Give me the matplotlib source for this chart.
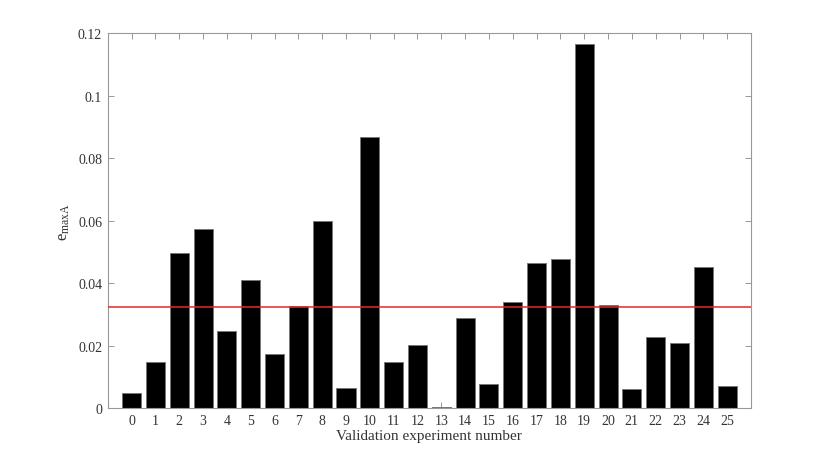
import matplotlib
matplotlib.use("Agg")
import matplotlib.pyplot as plt
import numpy as np

plt.rcParams['font.family'] = ['Liberation Serif', 'DejaVu Serif']
plt.rcParams['mathtext.fontset'] = 'custom'
plt.rcParams['mathtext.rm'] = 'Liberation Serif'
plt.rcParams['mathtext.it'] = 'Liberation Serif'

experiments = list(range(26))
errors = [0.0047, 0.0146, 0.0495, 0.0572, 0.0247, 0.0410, 0.0174, 0.0326,
          0.0598, 0.0063, 0.0867, 0.0147, 0.0201, 0.0003, 0.0287, 0.0077,
          0.0339, 0.0464, 0.0478, 0.1166, 0.0330, 0.0062, 0.0227, 0.0208,
          0.0451, 0.0071]
threshold = 0.03235
yticks = [0, 0.02, 0.04, 0.06, 0.08, 0.1, 0.12]
ytick_labels = ['0', '0.02', '0.04', '0.06', '0.08', '0.1', '0.12']

fig = plt.figure(figsize=(8.3, 4.6), dpi=100)
ax = fig.add_axes([0.1298, 0.1109, 0.9048 - 0.1298, 0.9254 - 0.1109])

ax.bar(experiments, errors, width=0.8, color='black', edgecolor='#777777',
       linewidth=0.7, zorder=2)
ax.axhline(threshold, color='#e8262b', linewidth=1.1, zorder=3)

ax.set_xlim(-1, 26)
ax.set_ylim(0, 0.12)
ax.set_xticks(experiments)
ax.set_xticklabels([str(e) for e in experiments])
ax.set_yticks(yticks)
ax.set_yticklabels(ytick_labels)
ax.set_axisbelow(True)

ax.tick_params(direction='in', top=True, right=True, length=4.5, width=0.7,
               color='#999999', labelsize=10, labelcolor='#333333', pad=4)
for s in ax.spines.values():
    s.set_color('#999999')
    s.set_linewidth(0.8)

ax.set_xlabel('Validation experiment number', fontsize=11, color='#333333', labelpad=2)
ax.set_ylabel(r'$\mathregular{e_{maxA}}$', fontsize=12, color='#333333', labelpad=4)

fig.savefig('out.png', dpi=100)
